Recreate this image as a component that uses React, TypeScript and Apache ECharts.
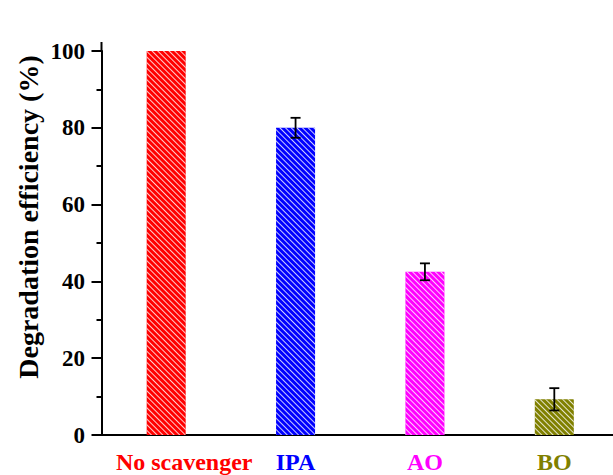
import React, { useEffect, useRef } from "react";
import * as echarts from "echarts";

const categories = ["No scavenger", "IPA", "AO", "BO"];
const efficiency = [100, 80, 42.5, 9.3];
const errors = [0, 2.6, 2.2, 2.9];
const barColors = ["#FF0000", "#0000FF", "#FF00FF", "#808000"];
const yAxisName = "Degradation efficiency (%)";

const FONT = "'Liberation Serif', 'Times New Roman', serif";

export default function App() {
  const ref = useRef<HTMLDivElement>(null);
  useEffect(() => {
    const chart = echarts.init(ref.current!, undefined, { renderer: "svg" });
    const rich: any = {};
    categories.forEach((c, i) => {
      rich["c" + i] = {
        color: barColors[i],
        fontFamily: FONT,
        fontWeight: "bold",
        fontSize: 24,
        padding: i === 0 ? [0, 0, 0, 36] : 0,
      };
    });
    chart.setOption({
      animation: false,
      grid: { left: 101.5, top: 51, width: 517.5, bottom: 40, outerBoundsMode: "none", containLabel: false },
      xAxis: {
        type: "category",
        data: categories,
        axisLine: { lineStyle: { color: "#000", width: 2 } },
        axisTick: { show: false },
        axisLabel: {
          margin: 15,
          interval: 0,
          formatter: (v: string, i: number) => `{c${i}|${v}}`,
          rich,
        },
      },
      yAxis: {
        type: "value",
        min: 0,
        max: 100,
        interval: 20,
        axisLine: { show: true, lineStyle: { color: "#000", width: 2 } },
        axisTick: { show: true, inside: false, length: 10, lineStyle: { color: "#000", width: 2 } },
        minorTick: { show: true, splitNumber: 2, length: 5, lineStyle: { color: "#000", width: 2 } },
        splitLine: { show: false },
        axisLabel: {
          margin: 16.5,
          color: "#000",
          fontFamily: FONT,
          fontWeight: "bold",
          fontSize: 23,
        },
      },
      graphic: [
        {
          type: "line",
          shape: { x1: 101.5, y1: 42, x2: 101.5, y2: 52 },
          style: { stroke: "#000", lineWidth: 2 },
        },
        {
          type: "text",
          x: 28,
          y: 217,
          rotation: Math.PI / 2,
          style: {
            text: yAxisName,
            fontFamily: FONT,
            fontWeight: "bold",
            fontSize: 28,
            fill: "#000",
            align: "center",
            verticalAlign: "middle",
          },
        },
      ],
      series: [
        {
          type: "bar",
          barWidth: 39,
          data: efficiency.map((v, i) => ({
            value: v,
            itemStyle: {
              color: barColors[i],
              decal: {
                symbol: "rect",
                symbolSize: 1,
                dashArrayX: [1, 0],
                dashArrayY: [1, 2.4],
                rotation: Math.PI / 4,
                color: "rgba(255,255,255,0.8)",
              },
            },
          })),
        },
        {
          type: "custom",
          encode: { x: 0, y: [1, 2] },
          data: efficiency.map((v, i) => [i, v - errors[i], v + errors[i]]),
          z: 10,
          renderItem: (params: any, api: any) => {
            if (api.value(2) - api.value(1) <= 0) return null;
            const lo = api.coord([api.value(0), api.value(1)]);
            const hi = api.coord([api.value(0), api.value(2)]);
            const hw = 5;
            const st = { stroke: "#000", lineWidth: 1.8 };
            return {
              type: "group",
              children: [
                { type: "line", shape: { x1: hi[0], y1: hi[1], x2: lo[0], y2: lo[1] }, style: st },
                { type: "line", shape: { x1: hi[0] - hw, y1: hi[1], x2: hi[0] + hw, y2: hi[1] }, style: st },
                { type: "line", shape: { x1: lo[0] - hw, y1: lo[1], x2: lo[0] + hw, y2: lo[1] }, style: st },
              ],
            };
          },
        },
      ],
    });
    return () => chart.dispose();
  }, []);
  return (
    <div
      ref={ref}
      style={{ position: "fixed", left: 0, top: 0, width: 613, height: 475, background: "#fff" }}
    />
  );
}
